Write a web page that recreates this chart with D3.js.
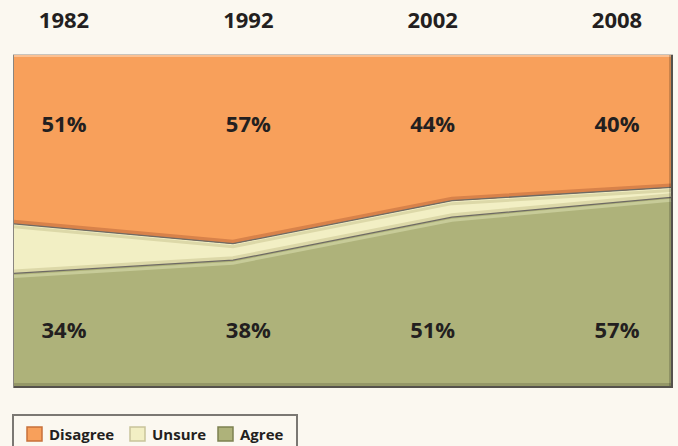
<!DOCTYPE html>
<html>
<head>
<meta charset="utf-8">
<script src="https://cdn.jsdelivr.net/npm/d3@7"></script>
<style>
  body { margin: 0; background: #fbf8f0; }
  svg { display: block; font-family: "Open Sans", "Noto Sans", sans-serif; }
</style>
</head>
<body>
<svg id="chart" width="678" height="446"></svg>
<script>
var years = ["1982", "1992", "2002", "2008"];
var agree = [34, 38, 51, 57];
var unsure = [15, 5, 5, 3];
var disagree = [51, 57, 44, 40];
var seriesNames = ["Agree", "Unsure", "Disagree"];
var legendNames = ["Disagree", "Unsure", "Agree"];

var colors = {Agree: "#aeb27a", Unsure: "#f2efc4", Disagree: "#f8a05b"};
var edgeColors = {Agree: "#c7cb98", Unsure: "#dcd8a8", Disagree: "#d8824a"};
var swatchStroke = {Agree: "#7d8150", Unsure: "#c9c49a", Disagree: "#c8703a"};

var plot = {left: 14, right: 671, top: 55, bottom: 386};

var svg = d3.select("#chart");

var rows = years.map(function(y, i) {
  return {year: y, Agree: agree[i], Unsure: unsure[i], Disagree: disagree[i]};
});

var stack = d3.stack().keys(seriesNames);
var layers = stack(rows);

var xScale = d3.scalePoint().domain(years).range([plot.left, plot.right]);
var yScale = d3.scaleLinear().domain([0, 100]).range([plot.bottom, plot.top]);
var labelX = d3.scalePoint().domain(years).range([64, 617]);

// frame shadow
svg.append("rect")
  .attr("x", plot.left - 1).attr("y", plot.top - 1)
  .attr("width", plot.right - plot.left + 3)
  .attr("height", plot.bottom - plot.top + 3)
  .attr("fill", "#55524c");

var area = d3.area()
  .x(function(d) { return xScale(d.data.year); })
  .y0(function(d) { return yScale(d[0]); })
  .y1(function(d) { return yScale(d[1]); });

svg.append("g").selectAll("path")
  .data(layers)
  .join("path")
  .attr("d", area)
  .attr("fill", function(d) { return colors[d.key]; });

// bevel bands along the boundaries
var topLine = d3.line()
  .x(function(d) { return xScale(d.data.year); })
  .y(function(d) { return yScale(d[1]); });

var bevel = svg.append("g");
layers.slice(0, 2).forEach(function(layer, i) {
  var above = layers[i + 1];
  bevel.append("path")
    .attr("d", topLine(layer))
    .attr("transform", "translate(0,-2)")
    .attr("fill", "none")
    .attr("stroke", edgeColors[above.key])
    .attr("stroke-width", 4);
  bevel.append("path")
    .attr("d", topLine(layer))
    .attr("transform", "translate(0,3)")
    .attr("fill", "none")
    .attr("stroke", edgeColors[layer.key])
    .attr("stroke-width", 3);
  bevel.append("path")
    .attr("d", topLine(layer))
    .attr("fill", "none")
    .attr("stroke", "#6e6a64")
    .attr("stroke-width", 1.3);
});

// top highlight and frame edges
svg.append("rect")
  .attr("x", plot.left).attr("y", plot.top)
  .attr("width", plot.right - plot.left).attr("height", 2)
  .attr("fill", "#fbc193");
svg.append("line")
  .attr("x1", plot.left - 0.5).attr("x2", plot.left - 0.5)
  .attr("y1", plot.top).attr("y2", plot.bottom + 2)
  .attr("stroke", "#8a8680");
svg.append("line")
  .attr("x1", plot.left - 1).attr("x2", plot.right + 2)
  .attr("y1", plot.top - 0.5).attr("y2", plot.top - 0.5)
  .attr("stroke", "#c9c4bc");
svg.append("rect")
  .attr("x", plot.right - 2).attr("y", plot.top)
  .attr("width", 2).attr("height", plot.bottom - plot.top)
  .attr("fill", "#000").attr("opacity", 0.18);
svg.append("rect")
  .attr("x", plot.left).attr("y", plot.bottom - 3)
  .attr("width", plot.right - plot.left).attr("height", 3)
  .attr("fill", "#000").attr("opacity", 0.15);

// year labels
svg.append("g").selectAll("text")
  .data(years)
  .join("text")
  .attr("x", function(d) { return labelX(d); })
  .attr("y", 28)
  .attr("text-anchor", "middle")
  .attr("font-size", 22)
  .attr("font-weight", "bold")
  .attr("fill", "#231f20")
  .text(function(d) { return d; });

// percent labels
svg.append("g").selectAll("text")
  .data(rows)
  .join("text")
  .attr("x", function(d) { return labelX(d.year); })
  .attr("y", 132)
  .attr("text-anchor", "middle")
  .attr("font-size", 22)
  .attr("font-weight", "bold")
  .attr("fill", "#231f20")
  .text(function(d) { return d.Disagree + "%"; });

svg.append("g").selectAll("text")
  .data(rows)
  .join("text")
  .attr("x", function(d) { return labelX(d.year); })
  .attr("y", 338)
  .attr("text-anchor", "middle")
  .attr("font-size", 22)
  .attr("font-weight", "bold")
  .attr("fill", "#231f20")
  .text(function(d) { return d.Agree + "%"; });

// legend
var legend = svg.append("g");
legend.append("rect")
  .attr("x", 13).attr("y", 415)
  .attr("width", 284).attr("height", 40)
  .attr("fill", "none")
  .attr("stroke", "#7b7873")
  .attr("stroke-width", 2);

var legendX = [27, 130, 218];
legendNames.forEach(function(name, i) {
  var g = legend.append("g").attr("transform", "translate(" + legendX[i] + ",427)");
  g.append("rect")
    .attr("width", 15).attr("height", 14)
    .attr("fill", colors[name])
    .attr("stroke", swatchStroke[name])
    .attr("stroke-width", 1.5);
  g.append("text")
    .attr("x", 22).attr("y", 13)
    .attr("font-size", 15)
    .attr("font-weight", "bold")
    .attr("fill", "#231f20")
    .text(name);
});
</script>
</body>
</html>
